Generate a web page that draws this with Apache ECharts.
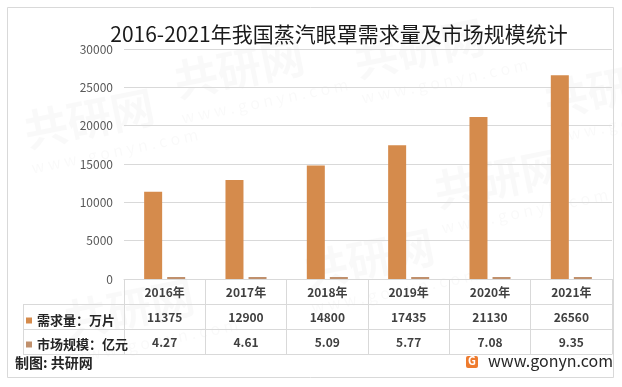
<!DOCTYPE html>
<html>
<head>
<meta charset="utf-8">
<script src="https://cdn.jsdelivr.net/npm/echarts@6/dist/echarts.min.js"></script>
<style>
html,body{margin:0;padding:0;background:#fff;}
#c{width:622px;height:387px;}
</style>
</head>
<body>
<div id="c"></div>
<script>
var categories = ['2016年','2017年','2018年','2019年','2020年','2021年'];
var demand = [11375, 12900, 14800, 17435, 21130, 26560];
var market = [4.27, 4.61, 5.09, 5.77, 7.08, 9.35];
var seriesNames = ['需求量：万片', '市场规模：亿元'];
var yTicks = [0, 5000, 10000, 15000, 20000, 25000, 30000];

var chart = echarts.init(document.getElementById('c'), null, {renderer:'canvas'});
var FONT = '"Noto Sans CJK SC", "Noto Sans", sans-serif';
var LINE = '#d9d9d9';
var cOrange = '#D58B4C';
var cBrown = '#C0906C';

function tableAxis(offset, showLabel, fmt) {
  return {
    type: 'category', gridIndex: 0, position: 'bottom', offset: offset,
    data: categories,
    axisLine: {show: true, lineStyle: {color: LINE, width: 1}},
    axisTick: {show: false},
    axisLabel: {show: showLabel, interval: 0, margin: 7, color: '#404040', fontSize: 12, fontWeight: 'bold', fontFamily: FONT, formatter: fmt}
  };
}

var wm = [];
var wmPos = [[20,110],[170,60],[300,250],[430,170],[540,80],[60,300],[350,40]];
wmPos.forEach(function(p){
  wm.push({type:'text', x:p[0], y:p[1], rotation: 0.2, silent:true, z:-10,
    style:{text:'共研网', fill:'rgba(0,0,0,0.022)', font:'bold 44px ' + FONT}});
  wm.push({type:'text', x:p[0]+10, y:p[1]+50, rotation: 0.2, silent:true, z:-10,
    style:{text:'w w w . g o n y n . c o m', fill:'rgba(0,0,0,0.025)', font:'16px ' + FONT}});
});

var option = {
  backgroundColor: '#fff',
  animation: false,
  title: {
    text: '2016-2021年我国蒸汽眼罩需求量及市场规模统计',
    left: 334, top: 19, textAlign: 'center',
    textStyle: {color: '#1a1a1a', fontSize: 21, fontWeight: 'normal', fontFamily: FONT}
  },
  legend: {
    data: seriesNames, orient: 'vertical', left: 21, top: 309,
    itemWidth: 6, itemHeight: 6, itemGap: 11, icon: 'rect',
    textStyle: {color: '#262626', fontSize: 13, fontWeight: 'bold', fontFamily: FONT},
    selectedMode: false
  },
  grid: {left: 124, right: 10, top: 49, bottom: 108, containLabel: false},
  yAxis: {
    type: 'value', min: yTicks[0], max: yTicks[yTicks.length-1], interval: yTicks[1]-yTicks[0],
    axisLine: {show: false}, axisTick: {show: false},
    splitLine: {lineStyle: {color: LINE, width: 1}},
    axisLabel: {color: '#595959', fontSize: 12, margin: 11, fontFamily: FONT, formatter: function(v){ return String(v); }}
  },
  xAxis: [
    {
      type: 'category', gridIndex: 0, position: 'bottom', offset: 0, data: categories,
      axisLine: {show: true, lineStyle: {color: LINE, width: 1}},
      axisTick: {show: true, length: 75, interval: 0, lineStyle: {color: LINE, width: 1}},
      axisLabel: {interval: 0, margin: 7, color: '#404040', fontSize: 12, fontWeight: 'bold', fontFamily: FONT}
    },
    tableAxis(25, true, function(v, i){ return String(demand[i]); }),
    tableAxis(50, true, function(v, i){ return market[i].toFixed(2); }),
    tableAxis(75, false)
  ],
  series: [
    {name: seriesNames[0], type: 'bar', xAxisIndex: 0, data: demand, barWidth: 18, barGap: '28%', itemStyle: {color: cOrange}},
    {name: seriesNames[1], type: 'bar', xAxisIndex: 0, data: market, barWidth: 18, itemStyle: {color: cBrown}, barMinHeight: 2}
  ],
  graphic: wm.concat([
    {type:'rect', shape:{x:7.5, y:7.5, width:606, height:370}, style:{fill:'none', stroke:LINE, lineWidth:1}, silent:true},
    {type:'line', shape:{x1:23, y1:304.5, x2:124, y2:304.5}, style:{stroke:LINE, lineWidth:1}},
    {type:'line', shape:{x1:23, y1:329.5, x2:124, y2:329.5}, style:{stroke:LINE, lineWidth:1}},
    {type:'line', shape:{x1:23, y1:354.5, x2:124, y2:354.5}, style:{stroke:LINE, lineWidth:1}},
    {type:'line', shape:{x1:23.5, y1:304, x2:23.5, y2:355}, style:{stroke:LINE, lineWidth:1}},
    {type:'text', x:15, y:356, style:{text:'制图: 共研网', fill:'#262626', font:'bold 14px ' + FONT}},
    {type:'rect', shape:{x:466, y:356, width:12, height:12, r:2}, style:{fill:'#EE7B2E'}},
    {type:'text', x:468, y:355.5, style:{text:'G', fill:'#fff', font:'bold 11px ' + FONT}},
    {type:'text', x:488, y:353, style:{text:'www.gonyn.com', fill:'#262626', font:'16px ' + FONT}}
  ])
};
chart.setOption(option);
</script>
</body>
</html>
